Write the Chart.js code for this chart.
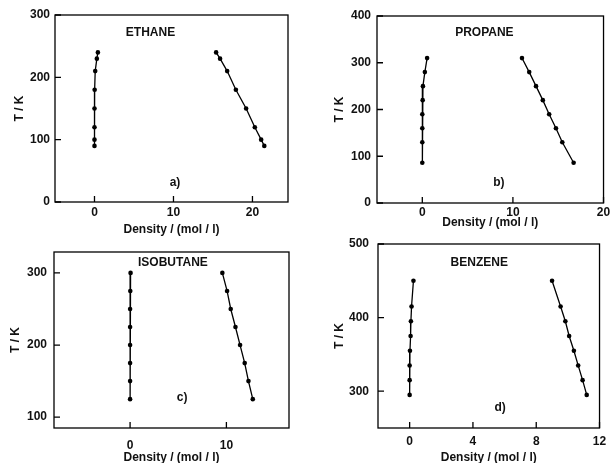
<!DOCTYPE html>
<html>
<head>
<meta charset="utf-8">
<script src="https://cdn.jsdelivr.net/npm/chart.js@4"></script>
<style>
  html, body { margin: 0; padding: 0; background: #fff; }
  #wrap { position: relative; width: 613px; height: 463px; }
  #wrap canvas { position: absolute; left: 0; top: 0; }
</style>
</head>
<body>
<div id="wrap">
  <canvas id="ethane" width="613" height="463"></canvas>
  <canvas id="propane" width="613" height="463"></canvas>
  <canvas id="isobutane" width="613" height="463"></canvas>
  <canvas id="benzene" width="613" height="463"></canvas>
</div>
<script>
// coexistence curves, T in K, density in mol/l
const ethaneT = [240, 230, 210, 180, 150, 120, 100, 90];
const ethaneVapor = [0.43, 0.30, 0.09, 0.02, 0.0, 0.0, 0.0, 0.0];
const ethaneLiquid = [15.4, 15.9, 16.8, 17.9, 19.2, 20.3, 21.1, 21.5];

const propaneT = [310, 280, 250, 220, 190, 160, 130, 86];
const propaneVapor = [0.53, 0.28, 0.07, 0.04, 0.0, 0.0, 0.0, 0.0];
const propaneLiquid = [11.0, 11.8, 12.55, 13.3, 14.0, 14.75, 15.45, 16.7];

const isobutaneT = [300, 275, 250, 225, 200, 175, 150, 125];
const isobutaneVapor = [0.05, 0.02, 0.0, 0.0, 0.0, 0.0, 0.0, 0.0];
const isobutaneLiquid = [9.58, 10.07, 10.45, 10.94, 11.42, 11.9, 12.29, 12.74];

const benzeneT = [450, 415, 395, 375, 355, 335, 315, 295];
const benzeneVapor = [0.24, 0.12, 0.08, 0.06, 0.02, 0.0, 0.0, 0.0];
const benzeneLiquid = [9.0, 9.54, 9.84, 10.08, 10.38, 10.65, 10.93, 11.19];

const FONT = 'Liberation Sans, Arial, sans-serif';
const INK = '#111';
const LH = 12 * 1.2;

// box, inward ticks and the labels inside each panel
const framePlugin = {
  id: 'frame',
  afterDraw(chart) {
    const { ctx, chartArea: a, scales } = chart;
    const p = chart.options.plugins.frame;
    ctx.save();
    ctx.strokeStyle = '#000';
    ctx.lineWidth = 1.3;
    ctx.strokeRect(a.left, a.top, a.right - a.left, a.bottom - a.top);
    ctx.beginPath();
    scales.x.ticks.forEach(t => {
      const px = scales.x.getPixelForValue(t.value);
      ctx.moveTo(px, a.bottom);
      ctx.lineTo(px, a.bottom - 6);
    });
    scales.y.ticks.forEach(t => {
      const py = scales.y.getPixelForValue(t.value);
      ctx.moveTo(a.left, py);
      ctx.lineTo(a.left + 6, py);
    });
    ctx.stroke();
    ctx.fillStyle = INK;
    ctx.font = 'bold 12px ' + FONT;
    ctx.textAlign = 'center';
    ctx.textBaseline = 'middle';
    const w = a.right - a.left, h = a.bottom - a.top;
    ctx.fillText(p.name, a.left + p.nameAt[0] * w, a.top + p.nameAt[1] * h);
    ctx.fillText(p.tag, a.left + p.tagAt[0] * w, a.top + p.tagAt[1] * h);
    ctx.restore();
  }
};

function pairs(xs, ys) {
  return xs.map((x, i) => ({ x: x, y: ys[i] }));
}

function makePanel(id, p) {
  const yLeft = p.yTitleX - LH / 2;
  const yW = p.area.l - yLeft;
  const xH = p.xTitleY + LH / 2 - p.area.b;
  const line = {
    showLine: true,
    borderColor: '#000',
    backgroundColor: '#000',
    borderWidth: 1.3,
    pointRadius: 2.3,
    pointBorderWidth: 0,
    tension: 0
  };
  new Chart(document.getElementById(id), {
    type: 'scatter',
    data: {
      datasets: [
        Object.assign({ data: pairs(p.vapor, p.T) }, line),
        Object.assign({ data: pairs(p.liquid, p.T) }, line)
      ]
    },
    options: {
      responsive: false,
      animation: false,
      events: [],
      layout: {
        autoPadding: false,
        padding: { left: yLeft, top: p.area.t, right: 613 - p.area.r, bottom: 463 - p.area.b - xH }
      },
      plugins: {
        legend: { display: false },
        tooltip: { enabled: false },
        frame: { name: p.name, nameAt: p.nameAt, tag: p.tag, tagAt: p.tagAt }
      },
      scales: {
        x: {
          type: 'linear',
          min: p.xMin, max: p.xMax,
          grid: { display: false, drawTicks: false },
          border: { display: false },
          ticks: {
            stepSize: p.xStep, includeBounds: false, autoSkip: false, maxRotation: 0,
            padding: p.xLabelY - p.area.b - LH / 2,
            color: INK, font: { family: FONT, size: 12, weight: 'bold' }
          },
          title: {
            display: true, text: 'Density / (mol / l)', padding: 0,
            color: INK, font: { family: FONT, size: 12, weight: 'bold' }
          },
          afterFit(s) { s.height = xH; }
        },
        y: {
          type: 'linear',
          min: p.yMin, max: p.yMax,
          grid: { display: false, drawTicks: false },
          border: { display: false },
          ticks: {
            stepSize: 100, includeBounds: false, autoSkip: false,
            padding: p.yLabelPad,
            color: INK, font: { family: FONT, size: 12, weight: 'bold' }
          },
          title: {
            display: true, text: 'T / K', padding: 0,
            color: INK, font: { family: FONT, size: 12, weight: 'bold' }
          },
          afterFit(s) { s.width = yW; }
        }
      }
    },
    plugins: [framePlugin]
  });
}

makePanel('ethane', {
  T: ethaneT, vapor: ethaneVapor, liquid: ethaneLiquid,
  name: 'ETHANE', nameAt: [0.41, 0.096], tag: 'a)', tagAt: [0.515, 0.898],
  area: { l: 55, t: 15, r: 288, b: 202 },
  xMin: -5, xMax: 24.5, xStep: 10, yMin: 0, yMax: 300,
  yLabelPad: 5, xLabelY: 213, xTitleY: 230, yTitleX: 20
});

makePanel('propane', {
  T: propaneT, vapor: propaneVapor, liquid: propaneLiquid,
  name: 'PROPANE', nameAt: [0.474, 0.09], tag: 'b)', tagAt: [0.538, 0.893],
  area: { l: 377, t: 16, r: 611, b: 203 },
  xMin: -5, xMax: 20, xStep: 10, yMin: 0, yMax: 400,
  yLabelPad: 6, xLabelY: 213, xTitleY: 223, yTitleX: 340
});

makePanel('isobutane', {
  T: isobutaneT, vapor: isobutaneVapor, liquid: isobutaneLiquid,
  name: 'ISOBUTANE', nameAt: [0.506, 0.0625], tag: 'c)', tagAt: [0.545, 0.83],
  area: { l: 54, t: 252, r: 289, b: 428 },
  xMin: -7.9, xMax: 16.5, xStep: 10, yMin: 85, yMax: 329,
  yLabelPad: 7, xLabelY: 446, xTitleY: 458, yTitleX: 16
});

makePanel('benzene', {
  T: benzeneT, vapor: benzeneVapor, liquid: benzeneLiquid,
  name: 'BENZENE', nameAt: [0.457, 0.103], tag: 'd)', tagAt: [0.551, 0.89],
  area: { l: 378, t: 244, r: 612, b: 428 },
  xMin: -2, xMax: 12, xStep: 4, yMin: 250, yMax: 500,
  yLabelPad: 9, xLabelY: 442, xTitleY: 458, yTitleX: 340
});
</script>
</body>
</html>
